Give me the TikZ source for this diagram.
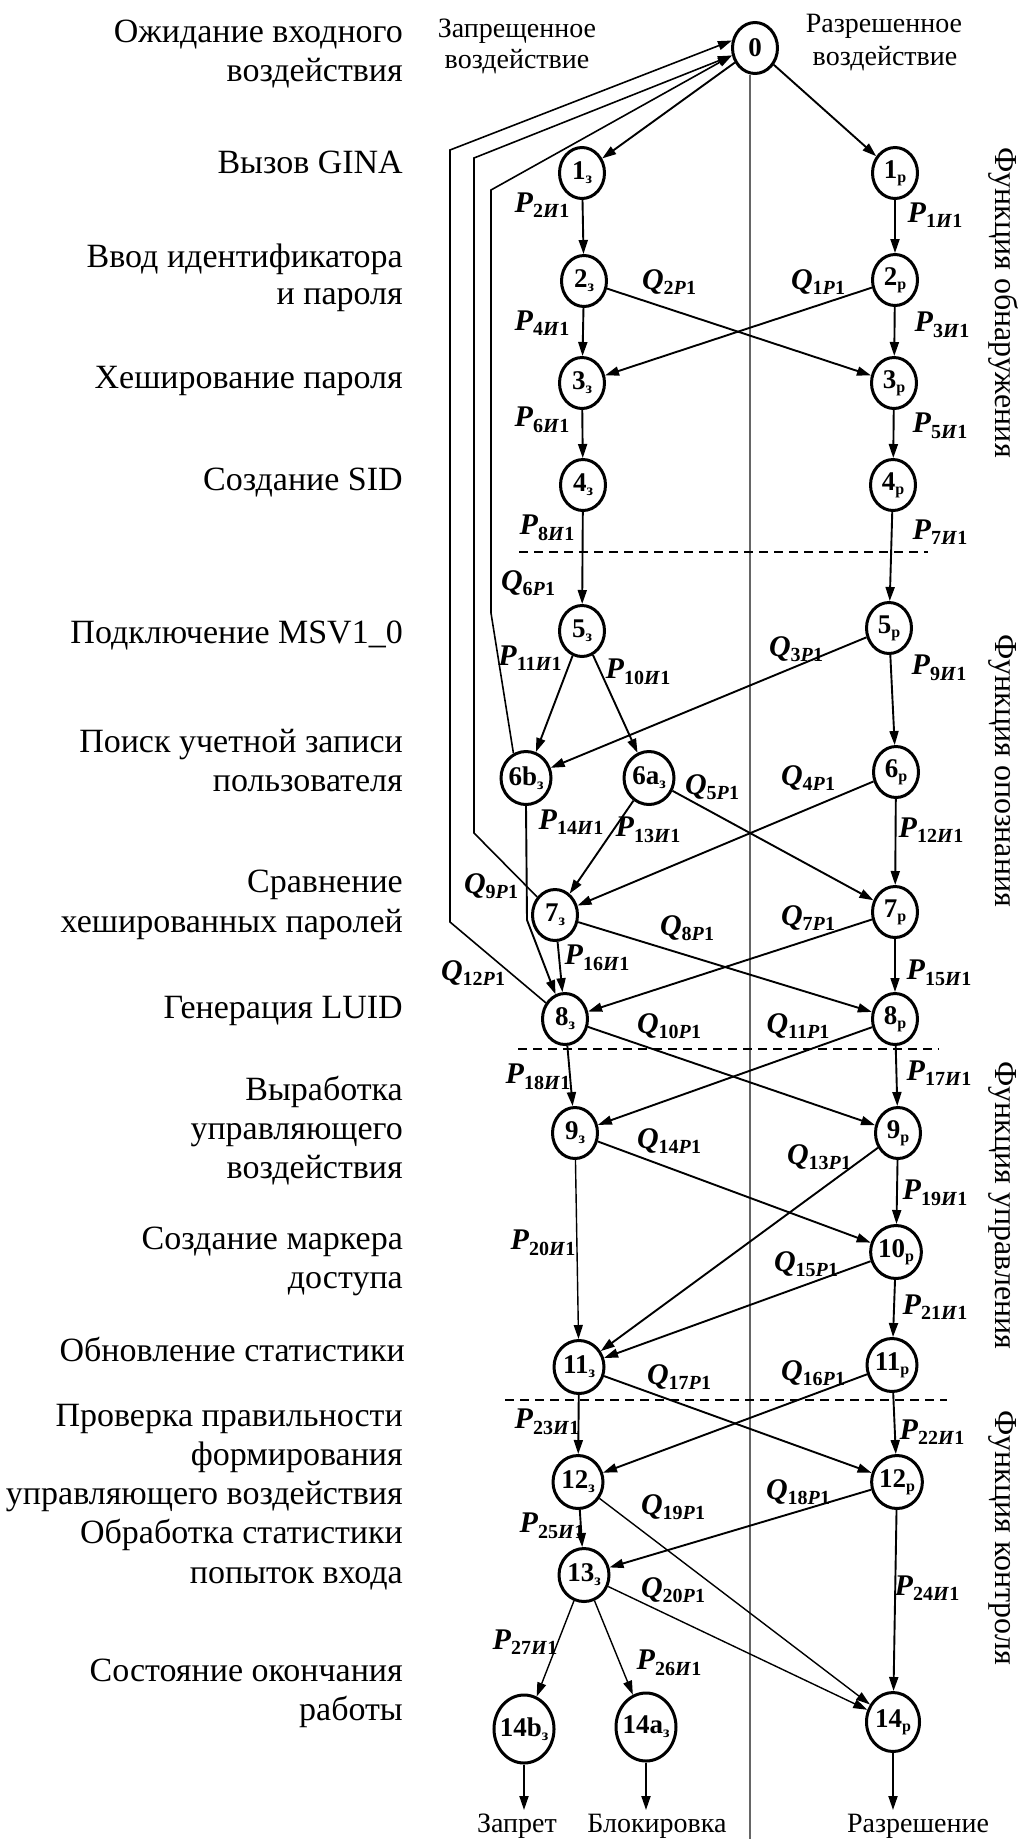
\documentclass[tikz,border=0pt]{standalone}
\usepackage{fontspec}
\setmainfont{Liberation Serif}
\usetikzlibrary{shapes.geometric,arrows.meta}
\newcommand{\nl}[2]{#1\raisebox{-4pt}{\fontsize{16}{16}\selectfont #2}}
\newcommand{\pl}[2]{\textit{#1}\raisebox{-5.5pt}{\fontsize{20}{20}\selectfont #2}}
\begin{document}
\begin{tikzpicture}[x=1pt,y=-1pt,
  st/.style={draw, ellipse, line width=3pt, inner sep=0pt, minimum width=45pt, minimum height=51pt, font=\fontsize{27}{27}\selectfont\bfseries},
  stm/.style={st, minimum width=50pt, minimum height=53pt},
  stl/.style={st, minimum width=60pt, minimum height=68pt, inner xsep=-3pt},
  ar/.style={line width=1.9pt, -{Triangle[length=14pt,width=9pt]}},
  arthin/.style={ar, line width=1.4pt},
  fbar/.style={line width=1.6pt, -{Triangle[length=14pt,width=9pt]}},
  lab/.style={font=\fontsize{30}{30}\selectfont\bfseries, inner sep=0pt},
  side/.style={font=\fontsize{34}{39}\selectfont, inner sep=0pt, anchor=base east},
  head/.style={font=\fontsize{28}{28}\selectfont, inner sep=0pt, anchor=base},
  func/.style={font=\fontsize{32}{32}\selectfont, inner sep=0pt, rotate=-90, anchor=west},
  sep/.style={dashed, dash pattern=on 9pt off 6pt, line width=1.2pt},
  centerline/.style={line width=1.5pt, draw=black!60}
]
\useasboundingbox (0,0) rectangle (1027,1839);

% left labels
\node[side] (L1a) at (403,42) {Ожидание входного};
\node[side] (L1b) at (403,81) {воздействия};
\node[side] (L2) at (403,173) {Вызов GINA};
\node[side] (L3a) at (403,267) {Ввод идентификатора};
\node[side] (L3b) at (403,304) {и пароля};
\node[side] (L4) at (403,388) {Хеширование пароля};
\node[side] (L5) at (403,490) {Создание SID};
\node[side] (L6) at (403,643) {Подключение MSV1\_0};
\node[side] (L7a) at (403,752) {Поиск учетной записи};
\node[side] (L7b) at (403,791) {пользователя};
\node[side] (L8a) at (403,892) {Сравнение};
\node[side] (L8b) at (403,932) {хешированных паролей};
\node[side] (L9) at (403,1018) {Генерация LUID};
\node[side] (L10a) at (403,1100) {Выработка};
\node[side] (L10b) at (403,1139) {управляющего};
\node[side] (L10c) at (403,1178) {воздействия};
\node[side] (L11a) at (403,1249) {Создание маркера};
\node[side] (L11b) at (403,1288) {доступа};
\node[side] (L12) at (405,1361) {Обновление статистики};
\node[side] (L13a) at (403,1426) {Проверка правильности};
\node[side] (L13b) at (403,1465) {формирования};
\node[side] (L13c) at (403,1504) {управляющего воздействия};
\node[side] (L14a) at (403,1543) {Обработка статистики};
\node[side] (L14b) at (403,1583) {попыток входа};
\node[side] (L15a) at (403,1681) {Состояние окончания};
\node[side] (L15b) at (403,1720) {работы};

% column headers
\node[head] (H1a) at (517,37) {Запрещенное};
\node[head] (H1b) at (517,68) {воздействие};
\node[head] (H2a) at (884,32) {Разрешенное};
\node[head] (H2b) at (885,65) {воздействие};

% function labels
\node[func] (F1) at (1003,147) {Функция обнаружения};
\node[func] (F2) at (1003,634) {Функция опознания};
\node[func] (F3) at (1003,1061) {Функция управления};
\node[func] (F4) at (1003,1410) {Функция контроля};

% states
\node[st] (n0) at (755,48) {0};
\node[st] (z1) at (582,173) {\nl{1}{з}};
\node[st] (r1) at (895,173) {\nl{1}{р}};
\node[st] (z2) at (584,281) {\nl{2}{з}};
\node[st] (r2) at (895,280) {\nl{2}{р}};
\node[st] (z3) at (582,383) {\nl{3}{з}};
\node[st] (r3) at (894,383) {\nl{3}{р}};
\node[st] (z4) at (583,485) {\nl{4}{з}};
\node[st] (r4) at (893,485) {\nl{4}{р}};
\node[st] (z5) at (582,631) {\nl{5}{з}};
\node[st] (r5) at (889,628) {\nl{5}{р}};
\node[stm] (z6b) at (526,778) {\nl{6b}{з}};
\node[stm] (z6a) at (649,778) {\nl{6a}{з}};
\node[st] (r6) at (896,772) {\nl{6}{р}};
\node[st] (z7) at (555,915) {\nl{7}{з}};
\node[st] (r7) at (895,912) {\nl{7}{р}};
\node[st] (z8) at (565,1019) {\nl{8}{з}};
\node[st] (r8) at (895,1019) {\nl{8}{р}};
\node[st] (z9) at (575,1133) {\nl{9}{з}};
\node[st] (r9) at (898,1133) {\nl{9}{р}};
\node[stm] (r10) at (896,1252) {\nl{10}{р}};
\node[stm] (z11) at (579,1367) {\nl{11}{з}};
\node[stm] (r11) at (892,1365) {\nl{11}{р}};
\node[stm] (z12) at (578,1482) {\nl{12}{з}};
\node[stm] (r12) at (897,1482) {\nl{12}{р}};
\node[stm] (z13) at (584,1575) {\nl{13}{з}};
\node[stl] (z14b) at (524,1729) {\nl{14b}{з}};
\node[stl] (z14a) at (646,1727) {\nl{14a}{з}};
\node[stm, minimum width=53pt, minimum height=59pt] (r14) at (893,1722) {\nl{14}{р}};

% centre line and separators
\coordinate (cb) at (750,1839);
\draw[centerline] (n0.south -| cb) -- (cb);
\coordinate (d1a) at (519,552); \coordinate (d1b) at (928,552);
\coordinate (d2a) at (518,1049); \coordinate (d2b) at (939,1049);
\coordinate (d3a) at (505,1400); \coordinate (d3b) at (947,1400);
\draw[sep] (d1a) -- (d1b);
\draw[sep] (d2a) -- (d2b);
\draw[sep] (d3a) -- (d3b);

% transitions
\draw[ar] (n0) -- (z1);
\draw[ar] (n0) -- (r1);
\draw[ar] (z1) -- (z2);
\draw[ar] (r1) -- (r2);
\draw[ar] (z2) -- (z3);
\draw[ar] (r2) -- (r3);
\draw[ar] (z2) -- (r3);
\draw[ar] (r2) -- (z3);
\draw[ar] (z3) -- (z4);
\draw[ar] (r3) -- (r4);
\draw[ar] (z4) -- (z5);
\draw[ar] (r4) -- (r5);
\draw[ar] (z5) -- (z6b);
\draw[ar] (z5) -- (z6a);
\draw[ar] (r5) -- (z6b);
\draw[ar] (r5) -- (r6);
\draw[ar] (z6a) -- (z7);
\draw[ar] (z6a) -- (r7);
\draw[ar] (r6) -- (z7);
\draw[ar] (r6) -- (r7);
\coordinate (b6) at (527,920);
\draw[ar] (z6b.south) -- (b6) -- (z8);
\draw[ar] (z7) -- (z8);
\draw[ar] (z7) -- (r8);
\draw[ar] (r7) -- (z8);
\draw[arthin] (r7) -- (r8);
\draw[ar] (z8) -- (z9);
\draw[ar] (z8) -- (r9);
\draw[ar] (r8) -- (z9);
\draw[ar] (r8) -- (r9);
\draw[arthin] (z9) -- (z11);
\draw[ar] (z9) -- (r10);
\draw[ar] (r9) -- (z11);
\draw[ar] (r9) -- (r10);
\draw[ar] (r10) -- (z11);
\draw[ar] (r10) -- (r11);
\draw[ar] (z11) -- (z12);
\draw[ar] (z11) -- (r12);
\draw[ar] (r11) -- (z12);
\draw[ar] (r11) -- (r12);
\draw[ar] (z12) -- (z13);
\draw[arthin] (z12) -- (r14);
\draw[ar] (r12) -- (z13);
\draw[ar] (r12) -- (r14);
\draw[arthin] (z13) -- (z14b);
\draw[arthin] (z13) -- (z14a);
\draw[arthin] (z13) -- (r14);

% feedback to state 0
\coordinate (fo1) at (450,922); \coordinate (fo2) at (450,150);
\coordinate (fm1) at (474,833); \coordinate (fm2) at (474,158);
\coordinate (fi1) at (491,613); \coordinate (fi2) at (491,190);
\draw[fbar] (z8) -- (fo1) -- (fo2) -- (n0.162);
\draw[fbar] (z7) -- (fm1) -- (fm2) -- (n0.198);
\draw[fbar] (z6b.117) -- (fi1) -- (fi2) -- (n0.198);

% outputs
\coordinate (e1) at (524,1810);
\coordinate (e2) at (646,1810);
\coordinate (e3) at (893,1810);
\draw[ar] (z14b) -- (e1);
\draw[ar] (z14a) -- (e2);
\draw[ar] (r14) -- (e3);
\node[head] (O1) at (517,1832) {Запрет};
\node[head] (O2) at (657,1832) {Блокировка};
\node[head] (O3) at (918,1832) {Разрешение};

% transition labels
\node[lab] (p2) at (542,205) {\pl{P}{2\textit{И}1}};
\node[lab] (p1) at (935,215) {\pl{P}{1\textit{И}1}};
\node[lab] (q2) at (669,282) {\pl{Q}{2\textit{P}1}};
\node[lab] (q1) at (818,282) {\pl{Q}{1\textit{P}1}};
\node[lab] (p4) at (542,323) {\pl{P}{4\textit{И}1}};
\node[lab] (p3) at (942,325) {\pl{P}{3\textit{И}1}};
\node[lab] (p6) at (542,420) {\pl{P}{6\textit{И}1}};
\node[lab] (p5) at (940,426) {\pl{P}{5\textit{И}1}};
\node[lab] (p8) at (547,528) {\pl{P}{8\textit{И}1}};
\node[lab] (p7) at (940,532) {\pl{P}{7\textit{И}1}};
\node[lab] (q6) at (528,583) {\pl{Q}{6\textit{P}1}};
\node[lab] (p11) at (530,658) {\pl{P}{11\textit{И}1}};
\node[lab] (p10) at (638,672) {\pl{P}{10\textit{И}1}};
\node[lab] (q3) at (796,649) {\pl{Q}{3\textit{P}1}};
\node[lab] (p9) at (939,668) {\pl{P}{9\textit{И}1}};
\node[lab] (q5) at (712,787) {\pl{Q}{5\textit{P}1}};
\node[lab] (q4) at (808,778) {\pl{Q}{4\textit{P}1}};
\node[lab] (p14) at (571,822) {\pl{P}{14\textit{И}1}};
\node[lab] (p13) at (648,830) {\pl{P}{13\textit{И}1}};
\node[lab] (p12) at (931,830) {\pl{P}{12\textit{И}1}};
\node[lab] (q9) at (491,886) {\pl{Q}{9\textit{P}1}};
\node[lab] (q7) at (808,918) {\pl{Q}{7\textit{P}1}};
\node[lab] (q8) at (687,928) {\pl{Q}{8\textit{P}1}};
\node[lab] (p16) at (597,958) {\pl{P}{16\textit{И}1}};
\node[lab] (q12) at (473,973) {\pl{Q}{12\textit{P}1}};
\node[lab] (p15) at (939,973) {\pl{P}{15\textit{И}1}};
\node[lab] (q10) at (669,1026) {\pl{Q}{10\textit{P}1}};
\node[lab] (q11) at (798,1026) {\pl{Q}{11\textit{P}1}};
\node[lab] (p18) at (538,1077) {\pl{P}{18\textit{И}1}};
\node[lab] (p17) at (939,1073) {\pl{P}{17\textit{И}1}};
\node[lab] (q14) at (669,1141) {\pl{Q}{14\textit{P}1}};
\node[lab] (q13) at (819,1157) {\pl{Q}{13\textit{P}1}};
\node[lab] (p19) at (935,1193) {\pl{P}{19\textit{И}1}};
\node[lab] (p20) at (543,1243) {\pl{P}{20\textit{И}1}};
\node[lab] (q15) at (806,1264) {\pl{Q}{15\textit{P}1}};
\node[lab] (p21) at (935,1307) {\pl{P}{21\textit{И}1}};
\node[lab] (q17) at (679,1377) {\pl{Q}{17\textit{P}1}};
\node[lab] (q16) at (813,1373) {\pl{Q}{16\textit{P}1}};
\node[lab] (p23) at (547,1422) {\pl{P}{23\textit{И}1}};
\node[lab] (p22) at (932,1432) {\pl{P}{22\textit{И}1}};
\node[lab] (q18) at (798,1492) {\pl{Q}{18\textit{P}1}};
\node[lab] (q19) at (673,1507) {\pl{Q}{19\textit{P}1}};
\node[lab] (p25) at (552,1526) {\pl{P}{25\textit{И}1}};
\node[lab] (q20) at (673,1590) {\pl{Q}{20\textit{P}1}};
\node[lab] (p24) at (927,1588) {\pl{P}{24\textit{И}1}};
\node[lab] (p27) at (525,1642) {\pl{P}{27\textit{И}1}};
\node[lab] (p26) at (669,1663) {\pl{P}{26\textit{И}1}};
\end{tikzpicture}
\end{document}
